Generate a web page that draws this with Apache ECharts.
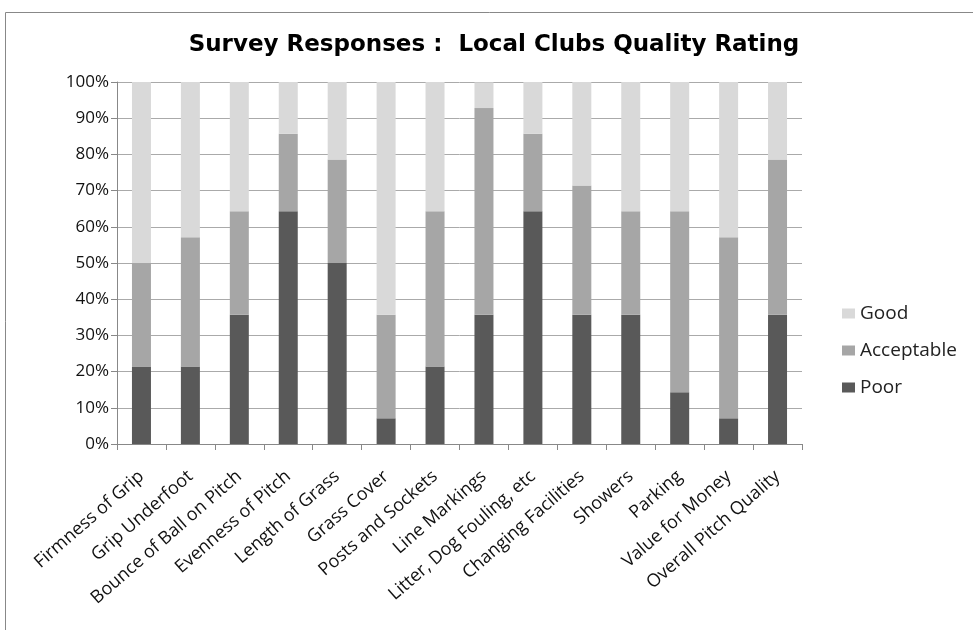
<!DOCTYPE html>
<html>
  <head>
    <meta charset="utf-8" />
    <title>Survey Responses</title>
    <script src="https://cdn.jsdelivr.net/npm/echarts@6.0.0/dist/echarts.min.js"></script>
  </head>
  <body style="margin:0;">
    <div id="main" style="width: 973px;height:630px;"></div>
    <script type="text/javascript">
const categories = ['Firmness of Grip', 'Grip Underfoot', 'Bounce of Ball on Pitch', 'Evenness of Pitch',
  'Length of Grass', 'Grass Cover', 'Posts and Sockets', 'Line Markings', 'Litter, Dog Fouling, etc',
  'Changing Facilities', 'Showers', 'Parking', 'Value for Money', 'Overall Pitch Quality'];
// percent of responses
const poor = [21.4, 21.4, 35.7, 64.3, 50.0, 7.1, 21.4, 35.7, 64.3, 35.7, 35.7, 14.3, 7.1, 35.7];
const acceptable = [28.6, 35.7, 28.6, 21.4, 28.6, 28.6, 42.9, 57.1, 21.4, 35.7, 28.6, 50.0, 50.0, 42.9];
const good = [50.0, 42.9, 35.7, 14.3, 21.4, 64.3, 35.7, 7.1, 14.3, 28.6, 35.7, 35.7, 42.9, 21.4];
const yTicks = [0, 10, 20, 30, 40, 50, 60, 70, 80, 90, 100];

var chartDom = document.getElementById('main');
var myChart = echarts.init(chartDom);
var font = '"Open Sans", Lato, sans-serif';

var option = {
  backgroundColor: '#fff',
  animation: false,
  title: {
    text: 'Survey Responses :  Local Clubs Quality Rating',
    left: 489,
    textAlign: 'center',
    top: 29,
    textStyle: { fontFamily: '"DejaVu Sans"', fontSize: 23, fontWeight: 'bold', color: '#000' }
  },
  graphic: [{
    type: 'rect',
    shape: { x: 5.5, y: 12.5, width: 1000, height: 700 },
    style: { fill: 'none', stroke: '#888', lineWidth: 1 },
    silent: true
  }],
  legend: {
    data: ['Good', 'Acceptable', 'Poor'],
    orient: 'vertical',
    left: 837,
    top: 299,
    itemWidth: 13,
    itemHeight: 10,
    itemGap: 18,
    icon: 'rect',
    textStyle: { fontFamily: font, fontSize: 19, color: '#222' }
  },
  grid: { left: 117, right: 171, top: 82, bottom: 186 },
  xAxis: {
    type: 'category',
    data: categories,
    axisLine: { lineStyle: { color: '#888' } },
    axisTick: { show: true, alignWithLabel: false, length: 6, lineStyle: { color: '#888' } },
    axisLabel: { rotate: 41, interval: 0, fontFamily: font, fontSize: 18, color: '#111', margin: 30 }
  },
  yAxis: {
    type: 'value',
    min: 0,
    max: 100,
    interval: 10,
    axisLine: { show: true, lineStyle: { color: '#888' } },
    axisTick: { show: true, length: 6, lineStyle: { color: '#888' } },
    splitLine: { lineStyle: { color: '#aaa' } },
    axisLabel: {
      fontFamily: font, fontSize: 17, color: '#111', margin: 8,
      formatter: function (v) { return yTicks.indexOf(v) >= 0 ? v + '%' : ''; }
    }
  },
  series: [
    { name: 'Poor', type: 'bar', stack: 'all', data: poor, barWidth: 19, itemStyle: { color: '#595959' } },
    { name: 'Acceptable', type: 'bar', stack: 'all', data: acceptable, barWidth: 19, itemStyle: { color: '#a6a6a6' } },
    { name: 'Good', type: 'bar', stack: 'all', data: good, barWidth: 19, itemStyle: { color: '#d9d9d9' } }
  ]
};

option && myChart.setOption(option);
    </script>
  </body>
</html>
